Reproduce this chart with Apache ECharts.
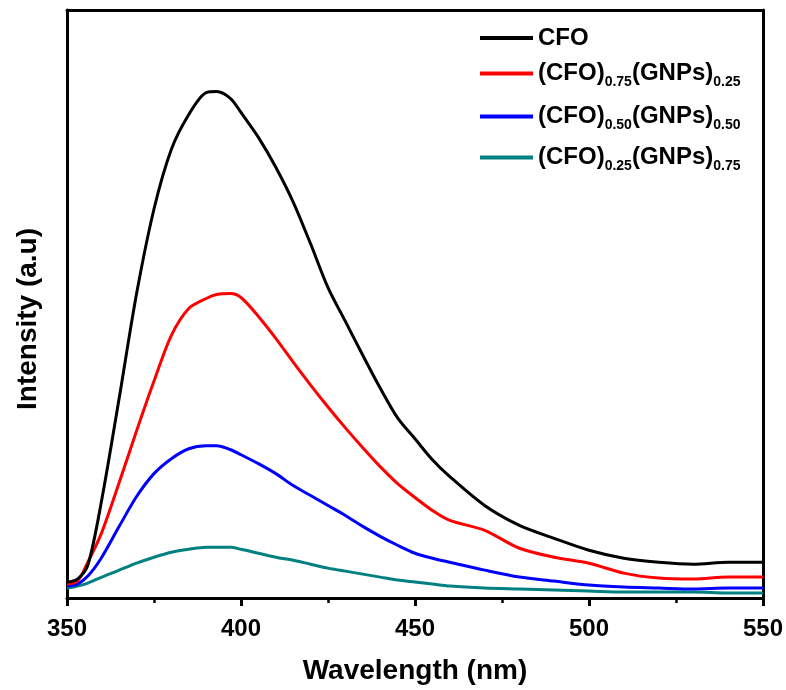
<!DOCTYPE html>
<html>
<head>
<meta charset="utf-8">
<script src="https://cdn.jsdelivr.net/npm/echarts@6/dist/echarts.min.js"></script>
<style>
html,body{margin:0;padding:0;background:#fff;}
#chart{width:786px;height:690px;}
</style>
</head>
<body>
<div id="chart"></div>
<script>
const wavelengths = [350,353,356,360,365,370,375,380,385,390,393,397,400,405,410,415,420,425,430,435,440,445,450,455,460,470,480,490,500,510,520,530,540,550];
const cfo     = [16,19,33,99,201,306,391,451,486,508,509,502,488,463,433,398,356,312,278,244,211,181,160,139,122,93,73,60,48,40,36,34,36,36];
const cfo75   = [14,17,36,66,116,168,218,264,291,301,305,306,302,283,261,237,214,192,171,151,132,115,101,88,78,68,50,41,35,25,20,19,21,21];
const cfo50   = [12,14,22,41,72,102,125,140,150,153,153,149,144,135,125,113,103,93,83,72,62,53,45,40,36,28,21,17,13,11,10,9,10,10];
const cfo25   = [10,12,15,21,28,35,41,46,49,51,51,51,49,45,41,38,34,30,27,24,21,18,16,14,12,10,9,8,7,6,6,6,5,5];
const seriesNames = ['CFO','(CFO)0.75(GNPs)0.25','(CFO)0.50(GNPs)0.50','(CFO)0.25(GNPs)0.75'];
const legendLabels = {
  'CFO': '{b|CFO}',
  '(CFO)0.75(GNPs)0.25': '{b|(CFO)}{s|0.75}{b|(GNPs)}{s|0.25}',
  '(CFO)0.50(GNPs)0.50': '{b|(CFO)}{s|0.50}{b|(GNPs)}{s|0.50}',
  '(CFO)0.25(GNPs)0.75': '{b|(CFO)}{s|0.25}{b|(GNPs)}{s|0.75}'
};
const colors = ['#000000','#ff0000','#0000ff','#008080'];
const allData = [cfo, cfo75, cfo50, cfo25];
const FONT = '"Liberation Sans", Arial, sans-serif';

const chart = echarts.init(document.getElementById('chart'), null, {renderer:'canvas'});
const legendTops = [26, 58, 101, 142];
const legends = seriesNames.map((n,i)=>({
  data:[n], orient:'vertical', left:480, top:legendTops[i], padding:0,
  itemWidth:53, itemHeight:4, icon:'rect',
  formatter: name => legendLabels[name],
  textStyle:{
    rich:{
      b:{fontFamily:FONT, fontWeight:'bold', fontSize:24, color:'#000', lineHeight:24},
      s:{fontFamily:FONT, fontWeight:'bold', fontSize:14, color:'#000', lineHeight:24, padding:[17,0,0,0]}
    }
  }
}));
const axisLine = {show:true, onZero:false, lineStyle:{color:'#000', width:3}};
chart.setOption({
  animation:false,
  backgroundColor:'#fff',
  grid:{left:67, right:22, top:10, bottom:89},
  legend: legends,
  xAxis:[{
    type:'value', min:350, max:550, interval:50, position:'bottom',
    axisLine:axisLine,
    axisTick:{show:true, inside:false, length:8, lineStyle:{width:3, color:'#000'}},
    minorTick:{show:true, splitNumber:2, length:5, lineStyle:{width:2.5, color:'#000'}},
    splitLine:{show:false},
    axisLabel:{fontFamily:FONT, fontWeight:'bold', fontSize:24, color:'#000', margin:19},
    name:'Wavelength (nm)', nameLocation:'middle', nameGap:59,
    nameTextStyle:{fontFamily:FONT, fontWeight:'bold', fontSize:28, color:'#000'}
  },{
    type:'value', min:350, max:550, position:'top',
    axisLine:axisLine, axisTick:{show:false}, axisLabel:{show:false}, splitLine:{show:false}
  }],
  yAxis:[{
    type:'value', min:0, max:591, position:'left',
    axisLine:axisLine, axisTick:{show:false}, axisLabel:{show:false}, splitLine:{show:false},
    name:'Intensity (a.u)', nameLocation:'middle', nameGap:25,
    nameTextStyle:{fontFamily:FONT, fontWeight:'bold', fontSize:28, color:'#000', padding:[0,30,0,0]}
  },{
    type:'value', min:0, max:591, position:'right',
    axisLine:axisLine, axisTick:{show:false}, axisLabel:{show:false}, splitLine:{show:false}
  }],
  series: seriesNames.map((n,i)=>({
    name:n, type:'line', showSymbol:false, smooth:0.3,
    data: wavelengths.map((w,j)=>[w, allData[i][j]]),
    lineStyle:{color:colors[i], width:3}, itemStyle:{color:colors[i]},
    z: 10 - i
  }))
});
</script>
</body>
</html>
